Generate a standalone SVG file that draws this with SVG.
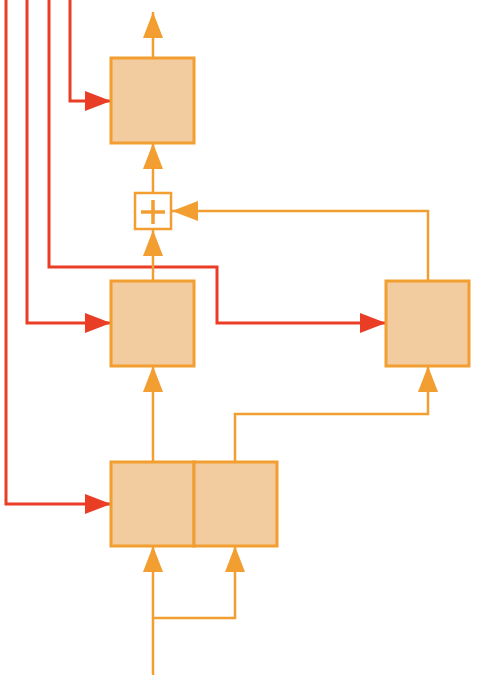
<svg xmlns="http://www.w3.org/2000/svg" width="479" height="688" viewBox="0 0 479 688">
<style>
.box{fill:#F2CB9F;stroke:#F29E30;stroke-width:3}
.o{fill:none;stroke:#F29E30;stroke-width:2.5}
.r{fill:none;stroke:#E93D25;stroke-width:3}
</style>
<defs>
<marker id="ao" markerUnits="userSpaceOnUse" markerWidth="26" markerHeight="20" refX="26" refY="10" orient="auto"><path d="M0,0 L26,10 L0,20 z" fill="#F29E30"/></marker>
<marker id="ar" markerUnits="userSpaceOnUse" markerWidth="26" markerHeight="20" refX="26" refY="10" orient="auto"><path d="M0,0 L26,10 L0,20 z" fill="#E93D25"/></marker>
</defs>
<g id="connectors">
<path class="r" d="M70,0 V101 H111" marker-end="url(#ar)"/>
<path class="r" d="M49,0 V267 H217 V323 H386" marker-end="url(#ar)"/>
<path class="r" d="M27,0 V323 H111" marker-end="url(#ar)"/>
<path class="r" d="M6,0 V504 H111" marker-end="url(#ar)"/>
<path class="o" d="M153,58 V12" marker-end="url(#ao)"/>
<path class="o" d="M153,193 V143" marker-end="url(#ao)"/>
<path class="o" d="M153,281 V230" marker-end="url(#ao)"/>
<path class="o" d="M428,281 V211 H172" marker-end="url(#ao)"/>
<path class="o" d="M153,462 V366" marker-end="url(#ao)"/>
<path class="o" d="M235,462 V414 H428 V366" marker-end="url(#ao)"/>
<path class="o" d="M153,675 V546" marker-end="url(#ao)"/>
<path class="o" d="M153,618 H235 V546" marker-end="url(#ao)"/>
</g>
<g id="top"><rect class="box" x="111" y="58" width="83" height="85"/></g>
<g id="plus"><rect x="135" y="193" width="36" height="36" fill="#fff" stroke="#F29E30" stroke-width="2.5"/><path d="M141,212 H165 M153,200 V224" stroke="#F29E30" stroke-width="3.5" fill="none"/></g>
<g id="middle"><rect class="box" x="111" y="281" width="83" height="85"/></g>
<g id="right"><rect class="box" x="386" y="281" width="83" height="85"/></g>
<g id="bottomLeft"><rect class="box" x="111" y="462" width="83" height="84"/></g>
<g id="bottomRight"><rect class="box" x="194" y="462" width="83" height="84"/></g>
</svg>
